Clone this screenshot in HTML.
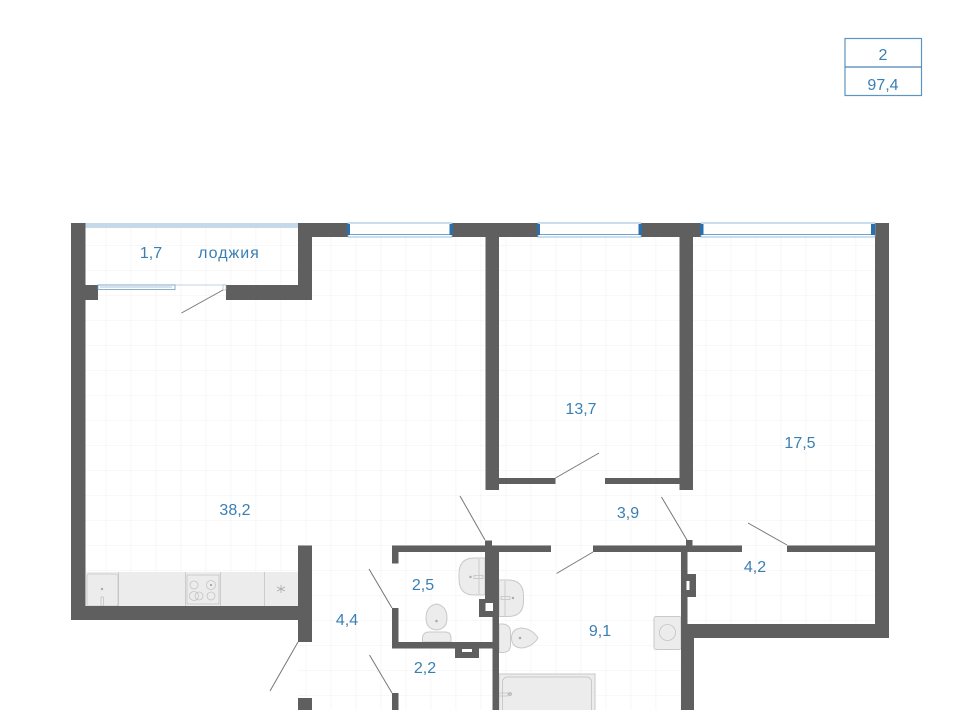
<!DOCTYPE html>
<html>
<head>
<meta charset="utf-8">
<style>
html,body{margin:0;padding:0;background:#fff;width:960px;height:710px;overflow:hidden}
svg{display:block}
text{font-family:"Liberation Sans",sans-serif;font-size:16px;fill:#3a7fb2;text-anchor:middle}
.w{fill:#5f5f5f}
.f{fill:#ececec;stroke:#c9c9c9;stroke-width:1}
.d{stroke:#777;stroke-width:1;fill:none}
.n{fill:none;stroke:#c4c4c4;stroke-width:.8}
</style>
</head>
<body>
<svg width="960" height="710" viewBox="0 0 960 710" xmlns="http://www.w3.org/2000/svg">
<defs>
<pattern id="g" x="5.7" y="20" width="25" height="25" patternUnits="userSpaceOnUse">
<path d="M0 0V25M0 0H25" fill="none" stroke="#f0f0f0" stroke-width="1"/>
</pattern>
</defs>
<rect width="960" height="710" fill="#fff"/>
<rect x="85" y="223" width="790" height="487" fill="url(#g)"/>
<rect x="71" y="620" width="227" height="90" fill="#fff"/>
<rect x="694" y="638" width="266" height="72" fill="#fff"/>

<!-- legend -->
<rect x="845" y="38.5" width="76.5" height="57" fill="none" stroke="#5c94c2" stroke-width="1.2"/>
<line x1="845" y1="67" x2="921.5" y2="67" stroke="#4b84b4" stroke-width="1.2"/>
<text x="883" y="60">2</text>
<text x="883" y="90">97,4</text>

<!-- kitchen -->
<rect x="86" y="572" width="212" height="34" fill="#ececec"/>
<path d="M118.500 572V606M185.500 572V606M220.500 572V606M264.500 572V606" class="n"/>
<rect x="87" y="574" width="31" height="32" rx="2" class="n"/>
<rect x="187" y="575" width="32" height="29" class="n"/>
<circle cx="194" cy="585" r="4" class="n"/><circle cx="211" cy="585" r="4.500" class="n"/><circle cx="211" cy="585" r="1" fill="#999"/>
<circle cx="194" cy="596" r="4.500" class="n"/><circle cx="199" cy="596" r="4" class="n"/><circle cx="211" cy="596" r="4" class="n"/>
<circle cx="102" cy="589" r="1.200" fill="#aaa"/>
<rect x="101" y="597" width="2.500" height="9" class="n"/>
<path d="M281 585v8M277 587l8 4M285 587l-8 4" stroke="#aaa" stroke-width=".8"/>

<!-- fixtures -->
<path class="f" d="M485 558H474Q459 558 459 574V579Q459 595 474 595H485Z"/>
<path class="n" d="M479 559V594"/>
<circle cx="470.500" cy="577" r="1.200" fill="#aaa"/>
<rect x="474" y="575.500" width="9" height="3" class="n"/>
<path class="f" d="M499 580H508Q523.500 580 523.500 596V601Q523.500 616.500 508 616.500H499Z"/>
<path class="n" d="M505 581V616"/>
<circle cx="513" cy="598" r="1.200" fill="#aaa"/>
<rect x="501" y="596.500" width="9" height="3" class="n"/>
<path class="f" d="M436.500 604Q447 606 447 618Q447 629 436.500 630Q426 629 426 618Q426 606 436.500 604Z"/>
<circle cx="436.500" cy="621" r="1.300" fill="#aaa"/>
<path class="f" d="M422.500 642V638Q423 632 429 632H445Q451 632 451 638V642Z"/>
<path class="f" d="M499 624H503Q510.500 625 510.500 632V645Q510.500 652 503 652.500H499Z"/>
<path class="f" d="M511.500 638Q511.500 629 521 628Q532 628.500 538 638Q532 647.500 521 648Q511.500 647 511.500 638Z"/>
<circle cx="520" cy="638" r="1.300" fill="#aaa"/>
<rect x="499" y="674" width="96" height="40" class="f"/>
<rect x="502.500" y="677" width="89" height="40" rx="5" class="f"/>
<rect x="499" y="693" width="9" height="3" class="n"/>
<circle cx="510" cy="694" r="1.300" fill="none" stroke="#aaa"/>
<rect x="654" y="616.500" width="27" height="33" rx="2" class="f"/>
<circle cx="667.500" cy="632.500" r="8" class="n"/>

<!-- walls -->
<g class="w">
<rect x="71" y="223" width="14.500" height="397"/>
<rect x="71" y="285" width="27" height="15"/>
<rect x="226" y="285" width="86" height="15"/>
<rect x="298" y="223" width="14" height="77"/>
<rect x="298" y="223" width="50" height="14"/>
<rect x="452" y="223" width="86" height="14"/>
<rect x="641" y="223" width="60" height="14"/>
<rect x="875" y="223" width="14" height="415"/>
<rect x="485.500" y="223" width="13.500" height="267"/>
<rect x="679.500" y="223" width="13.500" height="267"/>
<rect x="485.500" y="478" width="70" height="6"/>
<rect x="605" y="478" width="75" height="6"/>
<rect x="71" y="606" width="241" height="14"/>
<rect x="298" y="545.500" width="14" height="96.500"/>
<rect x="298" y="698" width="14" height="12"/>
<rect x="392" y="545.500" width="159" height="6.500"/>
<rect x="392" y="545.500" width="6.500" height="18"/>
<rect x="392" y="608" width="6.500" height="40"/>
<rect x="392" y="642" width="107" height="6.500"/>
<rect x="392" y="693" width="6.500" height="17"/>
<rect x="485" y="540.500" width="7" height="60"/>
<rect x="485" y="546" width="14" height="71"/>
<rect x="479" y="599" width="20" height="18"/>
<rect x="492.500" y="617" width="6.500" height="93"/>
<rect x="455" y="648" width="24" height="10"/>
<rect x="593" y="545.500" width="149" height="6.500"/>
<rect x="787" y="545.500" width="88" height="6.500"/>
<rect x="681" y="545.500" width="6.500" height="80"/>
<rect x="686" y="540" width="6.500" height="6"/>
<rect x="687" y="574" width="9" height="23"/>
<rect x="681" y="624" width="208" height="14"/>
<rect x="681" y="624" width="13" height="86"/>
</g>
<rect x="485.500" y="603" width="7.500" height="8" fill="#fff"/>
<rect x="462" y="649" width="10" height="3" fill="#fff"/>
<rect x="686.500" y="581" width="3" height="9" fill="#fff"/>

<!-- loggia glazing -->
<rect x="85.500" y="223" width="212.500" height="5" fill="#c6d9e9"/>
<line x1="98" y1="285" x2="226" y2="285" stroke="#a9c4da" stroke-width=".7"/>
<rect x="98" y="285" width="77" height="4.500" fill="#fff" stroke="#6b9cc4" stroke-width=".8"/>
<line x1="100" y1="287" x2="172" y2="287" stroke="#8bb2d2" stroke-width=".8"/>
<rect x="223" y="285" width="3" height="5" fill="#fff" stroke="#8fb3d0" stroke-width=".6"/>

<!-- windows -->
<g fill="#fff" stroke="#7fadd3" stroke-width=".8">
<rect x="348" y="223" width="104" height="14"/>
<rect x="538" y="223" width="103" height="14"/>
<rect x="701" y="223" width="174" height="14"/>
</g>
<g stroke="#6fa3cf" stroke-width="1" fill="none">
<path d="M348 234.500H452M538 234.500H641M701 234.500H875"/>
</g>
<g fill="#2a70ae">
<rect x="347" y="224" width="3" height="11"/>
<rect x="449.500" y="224" width="3.500" height="11"/>
<rect x="537" y="224" width="3" height="11"/>
<rect x="638.500" y="224" width="3.500" height="11"/>
<rect x="700" y="224" width="3.500" height="11"/>
<rect x="871" y="224" width="4" height="11"/>
</g>

<!-- doors -->
<g class="d">
<path d="M223 290L181.500 313"/>
<path d="M555.500 478L599 453"/>
<path d="M661.500 497L687 540"/>
<path d="M460 496L485 540"/>
<path d="M556.500 573.500L593 552"/>
<path d="M787 545L748 523"/>
<path d="M369 569L392 608"/>
<path d="M369.500 655L392 693"/>
<path d="M298 642L270 691"/>
</g>

<!-- labels -->
<text x="151" y="258">1,7</text>
<text x="229" y="258" style="letter-spacing:1px">лоджия</text>
<text x="581" y="414">13,7</text>
<text x="800" y="448">17,5</text>
<text x="235" y="515">38,2</text>
<text x="628" y="518">3,9</text>
<text x="423" y="590">2,5</text>
<text x="755" y="572">4,2</text>
<text x="347" y="625">4,4</text>
<text x="600" y="636">9,1</text>
<text x="425" y="673">2,2</text>
</svg>
</body>
</html>
